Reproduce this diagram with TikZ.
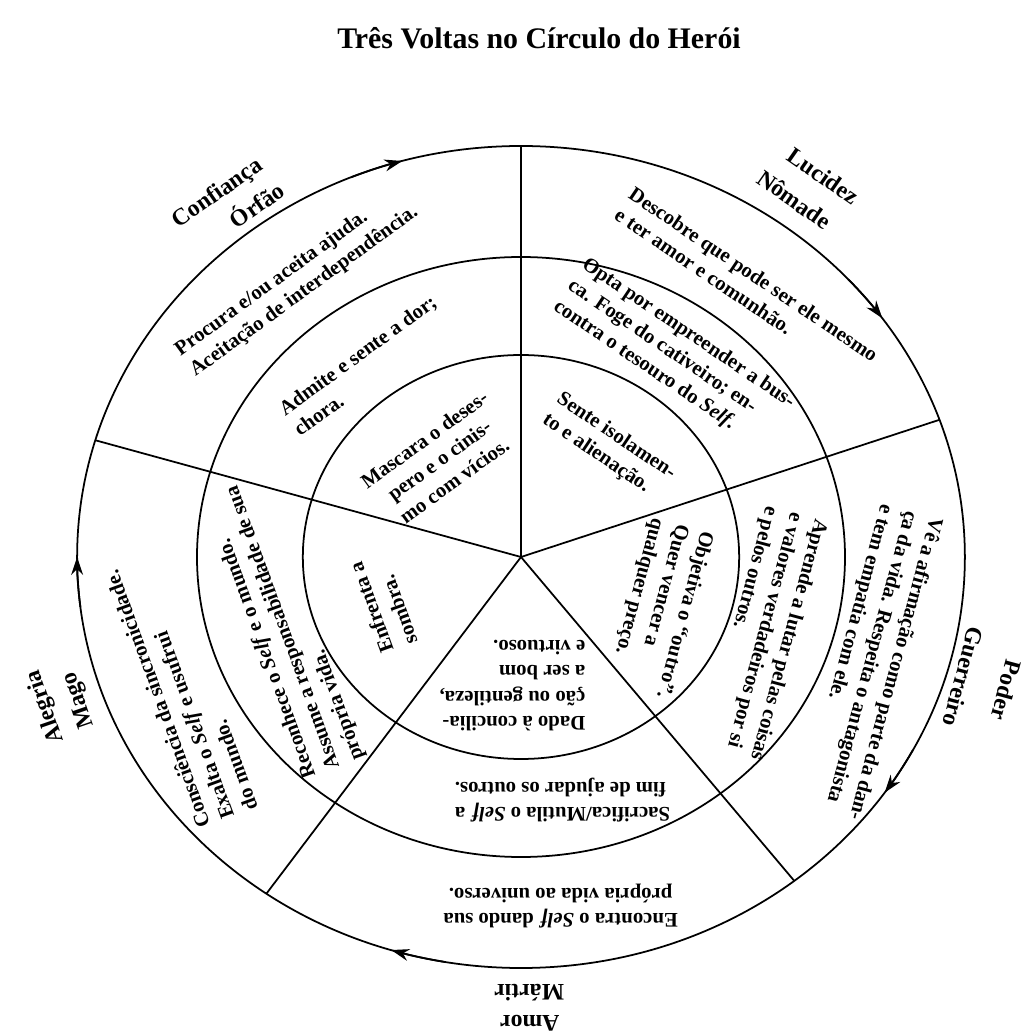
\documentclass[tikz,border=0pt]{standalone}
\usepackage{fontspec}
\setmainfont{Liberation Serif}
\usepackage{tikz}
\usetikzlibrary{arrows.meta}
\tikzstyle{ringtext} = [inner sep=0pt, align=left, font=\bfseries\fontsize{11.8}{14.5}\selectfont]
\tikzstyle{archetype} = [inner sep=0pt, font=\bfseries\fontsize{13.5}{16}\selectfont]
\tikzstyle{flow} = [-{Stealth[length=3.6mm, width=2.4mm]}]

\begin{document}
\begin{tikzpicture}[x=0.02cm, y=0.02cm, line width=1pt]
	\useasboundingbox (-521,-477) rectangle (505,557);
	\node (title) [font=\bfseries\fontsize{17}{20}\selectfont] at (18,519) {Três Voltas no Círculo do Herói};

	\begin{scope}[xscale=1.08]
		\coordinate (O) at (0,0);
		\draw (O) circle (411);
		\draw (O) circle (300);
		\draw (O) circle (202);
		\foreach \a in {90, 19.5, -52, -125, 163.5}
			\draw (O) -- (\a:411);
		% flechas no sentido horario
		\foreach \a in {180, 105.5, 35.5, -35, -107}
			\draw [flow] (\a+7:411) arc [start angle=\a+7, end angle=\a, radius=411];

		% Orfao
		\node (orfA) [ringtext, rotate=36] at (127:345) {Procura e/ou aceita ajuda.\\Aceitação de interdependência.};
		\node (orfB) [ringtext, rotate=36] at (127:240) {Admite e sente a dor;\\chora.};
		\node (orfC) [ringtext, rotate=36, align=center] at (128:123) {Mascara o deses-\\pero e o cinis-\\mo com vícios.};
		\node (virtOrf) [archetype, rotate=35] at (127.7:459) {Confiança};
		\node (nameOrf) [archetype, rotate=35] at (124.8:430) {Órfão};

		% Nomade
		\node (nomA) [ringtext, rotate=-34] at (52.5:343) {Descobre que pode ser ele mesmo\\e ter amor e comunhão.};
		\node (nomB) [ringtext, rotate=-34] at (55:247) {Opta por empreender a bus-\\ca. Foge do cativeiro; en-\\contra o tesouro do \textit{Self}.};
		\node (nomC) [ringtext, rotate=-34] at (53.5:137) {Sente isolamen-\\to e alienação.};
		\node (virtNom) [archetype, rotate=-35] at (53.7:473) {Lucidez};
		\node (nameNom) [archetype, rotate=-35] at (54.7:438) {Nômade};

		% Guerreiro
		\node (gueA) [ringtext, rotate=-105] at (-18:340) {Vê a afirmação como parte da dan-\\ça da vida. Respeita o antagonista\\e tem empatia com ele.};
		\node (gueB) [ringtext, rotate=-105] at (-18.7:237) {Aprende a lutar pelas coisas\\e valores verdadeiros por si\\e pelos outros.};
		\node (gueC) [ringtext, rotate=-105] at (-21.7:138) {Objetiva o ``outro''.\\Quer vencer a\\qualquer preço.};
		\node (virtGue) [archetype, rotate=-105] at (-16.5:469) {Poder};
		\node (nameGue) [archetype, rotate=-105] at (-16.3:427) {Guerreiro};

		% Martir
		\node (marA) [ringtext, rotate=180, align=center] at (-84:351) {Encontra o \textit{Self} dando sua\\própria vida ao universo.};
		\node (marB) [ringtext, rotate=180, align=right] at (-81:246) {Sacrifica/Mutila o \textit{Self} a\\fim de ajudar os outros.};
		\node (marC) [ringtext, rotate=180] at (-93.5:129) {Dado à concilia-\\ção ou gentileza,\\a ser bom\\e virtuoso.};
		\node (virtMar) [archetype, rotate=180] at (-89:466) {Amor};
		\node (nameMar) [archetype, rotate=180] at (-89:436) {Mártir};

		% Mago
		\node (magA) [ringtext, rotate=110] at (203:342) {Consciência da sincronicidade.\\Exalta o \textit{Self} e usufrui\\do mundo.};
		\node (magB) [ringtext, rotate=110] at (197.7:231) {Reconhece o \textit{Self} e o mundo.\\Assume a responsabilidade de sua\\própria vida.};
		\node (magC) [ringtext, rotate=110] at (200:136) {Enfrenta a\\sombra.};
		\node (virtMag) [archetype, rotate=109] at (198.8:465) {Alegria};
		\node (nameMag) [archetype, rotate=109] at (199.3:433) {Mago};
	\end{scope}
\end{tikzpicture}
\end{document}
